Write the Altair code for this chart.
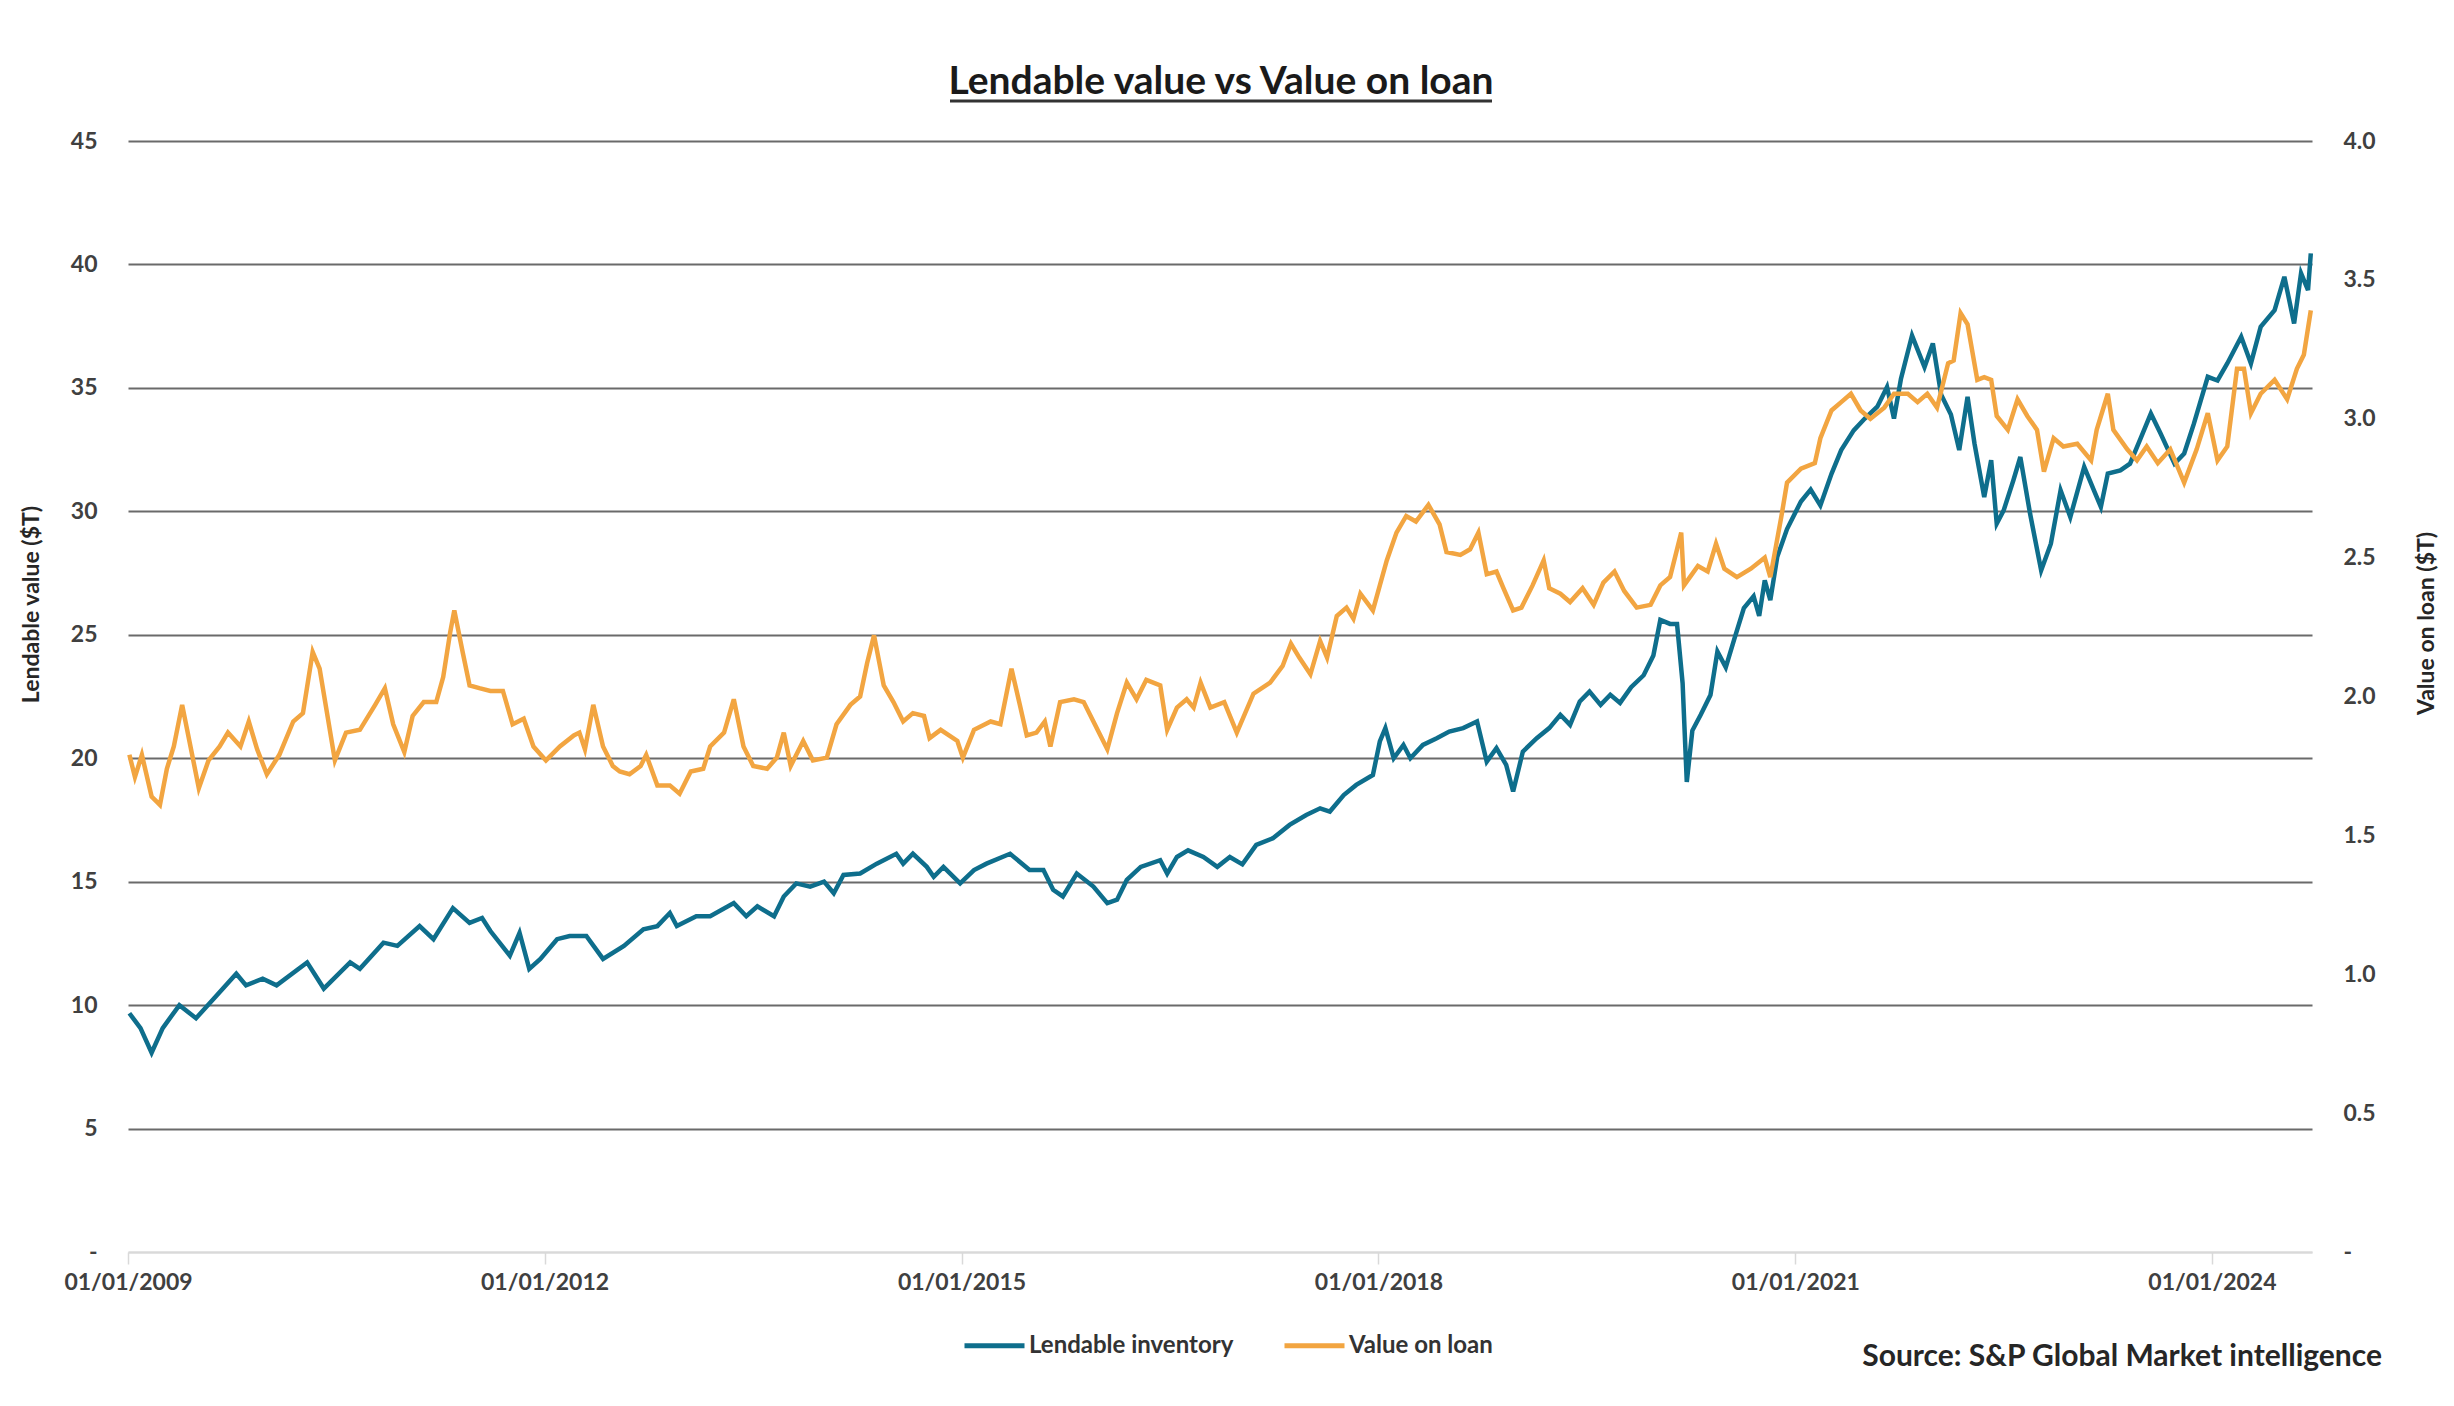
import altair as alt
import pandas as pd
from datetime import datetime

TITLE = "Lendable value vs Value on loan"
SOURCE = "Source: S&P Global Market intelligence"
SERIES = ["Lendable inventory", "Value on loan"]
COLORS = ["#0E6E8C", "#F2A541"]
LEFT_TITLE = "Lendable value ($T)"
RIGHT_TITLE = "Value on loan ($T)"
TICK_YEARS = [2009, 2012, 2015, 2018, 2021, 2024]
LEFT_TICKS = [0, 5, 10, 15, 20, 25, 30, 35, 40, 45]
RIGHT_TICKS = [0, 0.5, 1.0, 1.5, 2.0, 2.5, 3.0, 3.5, 4.0]

# Lendable inventory ($T), left axis — decimal year / value
lend_year = [
    2009.01, 2009.09, 2009.17, 2009.25, 2009.37, 2009.49, 2009.64, 2009.78, 2009.85, 2009.97,
    2010.07, 2010.29, 2010.41, 2010.60, 2010.67, 2010.84, 2010.94, 2011.10, 2011.20, 2011.34,
    2011.46, 2011.55, 2011.61, 2011.75, 2011.82, 2011.89, 2011.97, 2012.09, 2012.18, 2012.30,
    2012.42, 2012.57, 2012.71, 2012.81, 2012.90, 2012.95, 2013.09, 2013.19, 2013.36, 2013.45,
    2013.53, 2013.65, 2013.72, 2013.81, 2013.91, 2014.01, 2014.08, 2014.15, 2014.27, 2014.39,
    2014.53, 2014.58, 2014.65, 2014.75, 2014.80, 2014.87, 2014.99, 2015.09, 2015.18, 2015.35,
    2015.49, 2015.59, 2015.66, 2015.73, 2015.83, 2015.95, 2016.05, 2016.12, 2016.19, 2016.29,
    2016.43, 2016.48, 2016.55, 2016.63, 2016.74, 2016.84, 2016.93, 2017.02, 2017.12, 2017.24,
    2017.36, 2017.48, 2017.58, 2017.65, 2017.75, 2017.84, 2017.96, 2018.01, 2018.05, 2018.11,
    2018.18, 2018.23, 2018.32, 2018.42, 2018.51, 2018.61, 2018.71, 2018.78, 2018.85, 2018.92,
    2018.97, 2019.04, 2019.14, 2019.23, 2019.31, 2019.38, 2019.45, 2019.52, 2019.60, 2019.67,
    2019.74, 2019.82, 2019.91, 2019.98, 2020.03, 2020.10, 2020.15, 2020.19, 2020.22, 2020.26,
    2020.32, 2020.39, 2020.44, 2020.50, 2020.56, 2020.63, 2020.70, 2020.74, 2020.78, 2020.82,
    2020.87, 2020.94, 2021.04, 2021.11, 2021.18, 2021.26, 2021.33, 2021.42, 2021.50, 2021.59,
    2021.66, 2021.71, 2021.76, 2021.84, 2021.93, 2021.99, 2022.05, 2022.12, 2022.18, 2022.24,
    2022.29, 2022.36, 2022.41, 2022.45, 2022.50, 2022.57, 2022.62, 2022.69, 2022.77, 2022.84,
    2022.91, 2022.98, 2023.08, 2023.15, 2023.20, 2023.25, 2023.34, 2023.41, 2023.49, 2023.56,
    2023.63, 2023.73, 2023.80, 2023.87, 2023.97, 2024.04, 2024.11, 2024.21, 2024.28, 2024.35,
    2024.45, 2024.52, 2024.59, 2024.64, 2024.69, 2024.71,
]
lend_value = [
    9.67, 9.07, 8.07, 9.07, 10.0, 9.47, 10.4, 11.27, 10.8, 11.07,
    10.8, 11.73, 10.67, 11.73, 11.47, 12.53, 12.4, 13.2, 12.67, 13.93,
    13.33, 13.53, 13.0, 12.0, 12.93, 11.47, 11.87, 12.67, 12.8, 12.8,
    11.87, 12.4, 13.07, 13.2, 13.73, 13.2, 13.6, 13.6, 14.13, 13.6,
    14.0, 13.6, 14.4, 14.93, 14.8, 15.0, 14.53, 15.27, 15.33, 15.73,
    16.13, 15.73, 16.13, 15.6, 15.2, 15.6, 14.93, 15.47, 15.73, 16.13,
    15.47, 15.47, 14.67, 14.4, 15.33, 14.8, 14.13, 14.27, 15.07, 15.6,
    15.87, 15.33, 16.0, 16.27, 16.0, 15.6, 16.0, 15.7, 16.49, 16.76,
    17.3, 17.7, 17.97, 17.84, 18.51, 18.92, 19.32, 20.68, 21.22, 20.0,
    20.54, 20.0, 20.54, 20.81, 21.08, 21.22, 21.49, 19.86, 20.41, 19.73,
    18.65, 20.27, 20.81, 21.22, 21.76, 21.35, 22.3, 22.7, 22.16, 22.57,
    22.24, 22.88, 23.36, 24.16, 25.6, 25.44, 25.44, 23.04, 19.04, 21.12,
    21.76, 22.56, 24.32, 23.68, 24.8, 26.08, 26.56, 25.76, 27.2, 26.4,
    28.16, 29.28, 30.4, 30.88, 30.24, 31.52, 32.48, 33.28, 33.76, 34.24,
    35.04, 33.76, 35.36, 37.12, 35.84, 36.8, 34.72, 33.92, 32.48, 34.64,
    32.74, 30.58, 32.07, 29.5, 30.04, 31.26, 32.2, 29.91, 27.61, 28.69,
    30.85, 29.77, 31.8, 30.85, 30.18, 31.53, 31.66, 31.93, 33.01, 33.96,
    33.15, 31.93, 32.34, 33.55, 35.45, 35.3, 35.99, 37.07, 35.99, 37.47,
    38.15, 39.5, 37.61, 39.64, 38.96, 40.45,
]

# Value on loan ($T), right axis
loan_year = [
    2009.01, 2009.05, 2009.10, 2009.17, 2009.23, 2009.28, 2009.33, 2009.39, 2009.45, 2009.51,
    2009.58, 2009.66, 2009.72, 2009.81, 2009.87, 2009.93, 2010.00, 2010.09, 2010.19, 2010.26,
    2010.33, 2010.38, 2010.44, 2010.49, 2010.57, 2010.67, 2010.78, 2010.85, 2010.91, 2010.99,
    2011.05, 2011.13, 2011.22, 2011.27, 2011.32, 2011.35, 2011.41, 2011.46, 2011.53, 2011.61,
    2011.70, 2011.77, 2011.85, 2011.92, 2012.01, 2012.11, 2012.21, 2012.25, 2012.29, 2012.35,
    2012.42, 2012.49, 2012.54, 2012.61, 2012.69, 2012.73, 2012.81, 2012.90, 2012.97, 2013.05,
    2013.14, 2013.19, 2013.29, 2013.36, 2013.43, 2013.50, 2013.60, 2013.67, 2013.72, 2013.77,
    2013.86, 2013.93, 2014.03, 2014.10, 2014.20, 2014.27, 2014.32, 2014.37, 2014.44, 2014.51,
    2014.58, 2014.65, 2014.73, 2014.77, 2014.85, 2014.97, 2015.01, 2015.09, 2015.21, 2015.28,
    2015.36, 2015.42, 2015.47, 2015.54, 2015.60, 2015.64, 2015.71, 2015.81, 2015.88, 2015.95,
    2016.05, 2016.12, 2016.19, 2016.26, 2016.33, 2016.43, 2016.48, 2016.55, 2016.62, 2016.67,
    2016.72, 2016.79, 2016.89, 2016.98, 2017.10, 2017.22, 2017.31, 2017.37, 2017.43, 2017.51,
    2017.58, 2017.63, 2017.70, 2017.77, 2017.82, 2017.87, 2017.96, 2018.01, 2018.06, 2018.13,
    2018.20, 2018.27, 2018.36, 2018.44, 2018.49, 2018.59, 2018.66, 2018.72, 2018.78, 2018.85,
    2018.90, 2018.97, 2019.03, 2019.11, 2019.19, 2019.23, 2019.31, 2019.38, 2019.47, 2019.55,
    2019.62, 2019.70, 2019.77, 2019.86, 2019.96, 2020.03, 2020.10, 2020.18, 2020.20, 2020.30,
    2020.37, 2020.43, 2020.49, 2020.58, 2020.68, 2020.78, 2020.82, 2020.90, 2020.94, 2021.04,
    2021.14, 2021.18, 2021.26, 2021.33, 2021.40, 2021.47, 2021.54, 2021.64, 2021.71, 2021.81,
    2021.88, 2021.95, 2022.02, 2022.10, 2022.14, 2022.19, 2022.24, 2022.31, 2022.36, 2022.41,
    2022.45, 2022.53, 2022.60, 2022.67, 2022.74, 2022.79, 2022.86, 2022.93, 2023.03, 2023.13,
    2023.17, 2023.25, 2023.29, 2023.39, 2023.46, 2023.53, 2023.61, 2023.70, 2023.80, 2023.89,
    2023.97, 2024.04, 2024.11, 2024.18, 2024.23, 2024.28, 2024.35, 2024.45, 2024.54, 2024.61,
    2024.66, 2024.71,
]
loan_value = [
    1.79, 1.71, 1.79, 1.64, 1.61, 1.74, 1.82, 1.97, 1.82, 1.67,
    1.77, 1.82, 1.87, 1.82, 1.91, 1.81, 1.72, 1.79, 1.91, 1.94,
    2.16, 2.10, 1.92, 1.77, 1.87, 1.88, 1.97, 2.03, 1.90, 1.80,
    1.93, 1.98, 1.98, 2.07, 2.23, 2.31, 2.16, 2.04, 2.03, 2.02,
    2.02, 1.90, 1.92, 1.82, 1.77, 1.82, 1.86, 1.87, 1.81, 1.97,
    1.82, 1.75, 1.73, 1.72, 1.75, 1.79, 1.68, 1.68, 1.65, 1.73,
    1.74, 1.82, 1.87, 1.99, 1.82, 1.75, 1.74, 1.78, 1.87, 1.75,
    1.84, 1.77, 1.78, 1.90, 1.97, 2.00, 2.12, 2.22, 2.04, 1.98,
    1.91, 1.94, 1.93, 1.85, 1.88, 1.84, 1.78, 1.88, 1.91, 1.90,
    2.10, 1.97, 1.86, 1.87, 1.91, 1.82, 1.98, 1.99, 1.98, 1.91,
    1.81, 1.94, 2.05, 1.99, 2.06, 2.04, 1.88, 1.96, 1.99, 1.96,
    2.05, 1.96, 1.98, 1.87, 2.01, 2.05, 2.11, 2.19, 2.14, 2.08,
    2.20, 2.14, 2.29, 2.32, 2.28, 2.37, 2.31, 2.40, 2.49, 2.59,
    2.65, 2.63, 2.69, 2.62, 2.52, 2.51, 2.53, 2.59, 2.44, 2.45,
    2.39, 2.31, 2.32, 2.40, 2.49, 2.39, 2.37, 2.34, 2.39, 2.33,
    2.41, 2.45, 2.38, 2.32, 2.33, 2.40, 2.43, 2.59, 2.40, 2.47,
    2.45, 2.55, 2.46, 2.43, 2.46, 2.50, 2.43, 2.65, 2.77, 2.82,
    2.84, 2.93, 3.03, 3.06, 3.09, 3.03, 3.00, 3.04, 3.09, 3.09,
    3.06, 3.09, 3.04, 3.20, 3.21, 3.38, 3.34, 3.14, 3.15, 3.14,
    3.01, 2.96, 3.07, 3.01, 2.96, 2.81, 2.93, 2.90, 2.91, 2.85,
    2.96, 3.09, 2.96, 2.89, 2.85, 2.90, 2.84, 2.89, 2.77, 2.89,
    3.02, 2.85, 2.90, 3.18, 3.18, 3.02, 3.09, 3.14, 3.07, 3.18,
    3.23, 3.39,
]


def to_date(y):
    yi = int(y)
    start = datetime(yi, 1, 1)
    end = datetime(yi + 1, 1, 1)
    return (start + (end - start) * (y - yi)).strftime("%Y-%m-%dT%H:%M:%S")


lend_df = pd.DataFrame({"date": [to_date(y) for y in lend_year], "value": lend_value,
                        "series": SERIES[0]})
loan_df = pd.DataFrame({"date": [to_date(y) for y in loan_year], "value": loan_value,
                        "series": SERIES[1]})

FONT = "Lato"
LABEL_COLOR = "#404040"

x_enc = alt.X(
    "date:T",
    scale=alt.Scale(domain=[alt.DateTime(year=2009, month=1, date=1),
                            alt.DateTime(year=2024, month=9, date=20)]),
    axis=alt.Axis(
        values=[alt.DateTime(year=y, month=1, date=1) for y in TICK_YEARS],
        format="%d/%m/%Y", title=None, grid=False, labelFlush=False,
        domainColor="#d9d9d9", domainWidth=2, tickColor="#d9d9d9", tickWidth=1.5,
        tickSize=12, labelPadding=7, labelFont=FONT, labelFontSize=23,
        labelFontWeight="bold", labelColor=LABEL_COLOR,
    ),
)

color_scale = alt.Scale(domain=SERIES, range=COLORS)
legend = alt.Legend(
    title=None, orient="none", legendX=834, legendY=1172, direction="horizontal",
    symbolType="stroke", symbolSize=3600, symbolStrokeWidth=5,
    labelFont=FONT, labelFontSize=24, labelColor="#333333", labelFontWeight="bold",
    labelOffset=2, columnPadding=40, labelLimit=400,
)
color_enc = alt.Color("series:N", scale=color_scale, legend=legend)

lend = alt.Chart(lend_df).mark_line(strokeWidth=4.5).encode(
    x=x_enc,
    y=alt.Y(
        "value:Q",
        scale=alt.Scale(domain=[0, 45], nice=False, zero=True),
        axis=alt.Axis(
            orient="left", values=LEFT_TICKS,
            labelExpr="datum.value == 0 ? '-' : datum.label",
            grid=True, gridWidth=2,
            gridColor={"condition": {"test": "datum.value === 0", "value": "#d9d9d9"}, "value": "#6a6a6a"},
            domain=False, ticks=False, labelPadding=31,
            labelFont=FONT, labelFontSize=23, labelFontWeight="bold", labelColor=LABEL_COLOR,
            title=LEFT_TITLE, titleFont=FONT, titleFontSize=23, titleFontWeight="bold",
            titleColor="#262626", titleAngle=270, titleX=-97, titleY=463,
            titleAlign="center", titleBaseline="middle",
        ),
    ),
    color=color_enc,
)

loan = alt.Chart(loan_df).mark_line(strokeWidth=4.5).encode(
    x=x_enc,
    y=alt.Y(
        "value:Q",
        scale=alt.Scale(domain=[0, 4], nice=False, zero=True),
        axis=alt.Axis(
            orient="right", values=RIGHT_TICKS, format=".1f",
            labelExpr="datum.value == 0 ? '-' : datum.label",
            grid=False, domain=False, ticks=False, labelPadding=31,
            labelFont=FONT, labelFontSize=23, labelFontWeight="bold", labelColor=LABEL_COLOR,
            title=RIGHT_TITLE, titleFont=FONT, titleFontSize=23, titleFontWeight="bold",
            titleColor="#262626", titleAngle=270, titleX=114, titleY=482,
            titleAlign="center", titleBaseline="middle",
        ),
    ),
    color=color_enc,
)

text_df = pd.DataFrame({"title": [TITLE], "source": [SOURCE]})

title_mark = alt.Chart(text_df).mark_text(
    font=FONT, fontSize=39, fontWeight="bold", color="#1a1a1a",
    align="center", baseline="alphabetic",
).encode(text="title:N", x=alt.value(1093), y=alt.value(-47))

underline = alt.Chart(text_df).mark_rule(color="#333333", strokeWidth=3).encode(
    x=alt.value(822), x2=alt.value(1364), y=alt.value(-40)
)

source_mark = alt.Chart(text_df).mark_text(
    font=FONT, fontSize=30, fontWeight="bold", color="#262626",
    align="right", baseline="middle",
).encode(text="source:N", x=alt.value(2254), y=alt.value(1216))

chart = (
    alt.layer(lend, loan, title_mark, underline, source_mark)
    .resolve_scale(y="independent", color="shared")
    .properties(
        width=2184, height=1111,
        autosize=alt.AutoSizeParams(type="none"),
        padding={"left": 120, "top": 133, "right": 134, "bottom": 146},
        background="white",
    )
    .configure_view(stroke=None)
)

chart.save("out.html", embed_options={"renderer": "svg", "actions": False})
